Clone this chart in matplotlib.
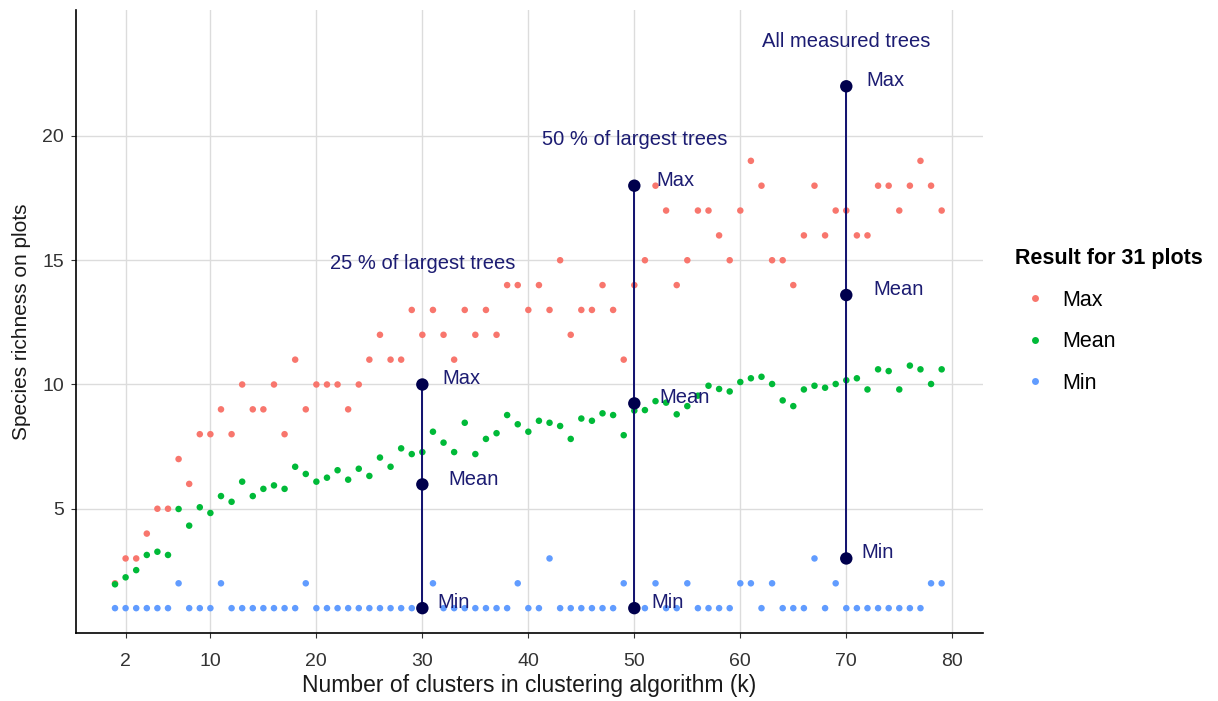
import matplotlib
matplotlib.use("Agg")
import matplotlib.pyplot as plt
from matplotlib.lines import Line2D

plt.rcParams['font.family'] = ['Liberation Sans', 'DejaVu Sans']

k = list(range(1, 80))
max_vals = [2, 3, 3, 4, 5, 5, 7, 6, 8, 8,
            9, 8, 10, 9, 9, 10, 8, 11, 9, 10,
            10, 10, 9, 10, 11, 12, 11, 11, 13, 12,
            13, 12, 11, 13, 12, 13, 12, 14, 14, 13,
            14, 13, 15, 12, 13, 13, 14, 13, 11, 14,
            15, 18, 17, 14, 15, 17, 17, 16, 15, 17,
            19, 18, 15, 15, 14, 16, 18, 16, 17, 17,
            16, 16, 18, 18, 17, 18, 19, 18, 17]
mean_vals = [1.96, 2.24, 2.53, 3.14, 3.27, 3.14, 4.99, 4.32, 5.06, 4.83,
             5.51, 5.28, 6.09, 5.51, 5.80, 5.94, 5.80, 6.69, 6.40, 6.09,
             6.25, 6.55, 6.17, 6.61, 6.32, 7.06, 6.69, 7.43, 7.20, 7.28,
             8.10, 7.66, 7.28, 8.46, 7.20, 7.81, 8.04, 8.77, 8.40, 8.10,
             8.54, 8.46, 8.33, 7.81, 8.63, 8.54, 8.84, 8.77, 7.96, 8.95,
             8.97, 9.33, 9.27, 8.80, 9.13, 9.55, 9.95, 9.82, 9.72, 10.10,
             10.25, 10.31, 10.02, 9.36, 9.13, 9.80, 9.95, 9.87, 10.02, 10.17,
             10.25, 9.80, 10.61, 10.54, 9.80, 10.76, 10.61, 10.02, 10.61]
min_vals = [1, 1, 1, 1, 1, 1, 2, 1, 1, 1,
            2, 1, 1, 1, 1, 1, 1, 1, 2, 1,
            1, 1, 1, 1, 1, 1, 1, 1, 1, 1,
            2, 1, 1, 1, 1, 1, 1, 1, 2, 1,
            1, 3, 1, 1, 1, 1, 1, 1, 2, 1,
            1, 2, 1, 1, 2, 1, 1, 1, 1, 2,
            2, 1, 2, 1, 1, 1, 3, 1, 2, 1,
            1, 1, 1, 1, 1, 1, 1, 2, 2]

series_names = ["Max", "Mean", "Min"]
series_colors = ["#F8766D", "#00BA38", "#619CFF"]

# Reference summaries (25 % / 50 % of largest trees, all measured trees)
ref_k = [30, 50, 70]
ref_titles = ["25 % of largest trees", "50 % of largest trees", "All measured trees"]
ref_max = [10, 18, 22]
ref_mean = [5.98, 9.24, 13.6]
ref_min = [1, 1, 3]

x_ticks = [2, 10, 20, 30, 40, 50, 60, 70, 80]
y_ticks = [5, 10, 15, 20]

fig = plt.figure(figsize=(12.18, 7.01), dpi=100)
ax = fig.add_axes([76/1218, 68/701, (983-76)/1218, (633-10)/701])

for vals, col, name in zip([max_vals, mean_vals, min_vals], series_colors, series_names):
    ax.scatter(k, vals, s=22, color=col, edgecolors='none', label=name, zorder=3)

navy_line = "#10106e"
navy_pt = "#00004d"
txt_col = "#1c1c72"
title_y = [14.85, 19.84, 23.82]
for kk, title, ty, mx, mn, mi in zip(ref_k, ref_titles, title_y, ref_max, ref_mean, ref_min):
    ax.plot([kk, kk], [mi, mx], color=navy_line, lw=1.4, zorder=4)
    ax.scatter([kk, kk, kk], [mx, mn, mi], s=80, color=navy_pt, edgecolors='none', zorder=5)
    ax.text(kk, ty, title, ha='center', va='center', fontsize=14.5, color=txt_col, zorder=6)

label_offsets = {
    30: [(20, 6), (26, 5), (15, 6)],
    50: [(22, 5), (25, 6), (17, 6)],
    70: [(20, 6), (27, 6), (15, 6)],
}
for kk, mx, mn, mi in zip(ref_k, ref_max, ref_mean, ref_min):
    offs = label_offsets[kk]
    for (dx, dy), yv, lab in zip(offs, [mx, mn, mi], ["Max", "Mean", "Min"]):
        ax.annotate(lab, (kk, yv), xytext=(dx * 0.72, dy * 0.72), textcoords='offset points',
                    ha='left', va='center', fontsize=14.5, color=txt_col, zorder=6)

ax.set_xlim(-2.68, 82.9)
ax.set_ylim(0, 25.07)
ax.set_xticks(x_ticks)
ax.set_xticklabels([str(t) for t in x_ticks])
ax.set_yticks(y_ticks)
ax.grid(True, color="#dcdcdc", lw=1.0, zorder=0)
ax.set_axisbelow(True)
for s in ['top', 'right']:
    ax.spines[s].set_visible(False)
for s in ['left', 'bottom']:
    ax.spines[s].set_color('black')
    ax.spines[s].set_linewidth(1.2)
ax.tick_params(axis='both', colors='#333333', labelcolor='#333333', labelsize=14,
               length=3.5, width=0.8)
ax.tick_params(axis='x', pad=11)
ax.tick_params(axis='y', pad=5)
ax.set_xlabel("Number of clusters in clustering algorithm (k)", fontsize=16.5,
              color='#1a1a1a', labelpad=3)
ax.set_ylabel("Species richness on plots", fontsize=15, color='#1a1a1a', labelpad=8)

handles = [Line2D([0], [0], marker='o', linestyle='none', markersize=5,
                  markerfacecolor=c, markeredgecolor='none') for c in series_colors]
leg = fig.legend(handles, series_names, title="Result for 31 plots", loc='upper left',
                 bbox_to_anchor=(996/1218, 1 - 229/701), frameon=False, fontsize=15.5,
                 title_fontproperties={'weight': 'bold', 'size': 15.5}, labelspacing=0.95,
                 handlelength=1.8, handletextpad=0.4, alignment='left')

fig.savefig("out.png", dpi=100)
